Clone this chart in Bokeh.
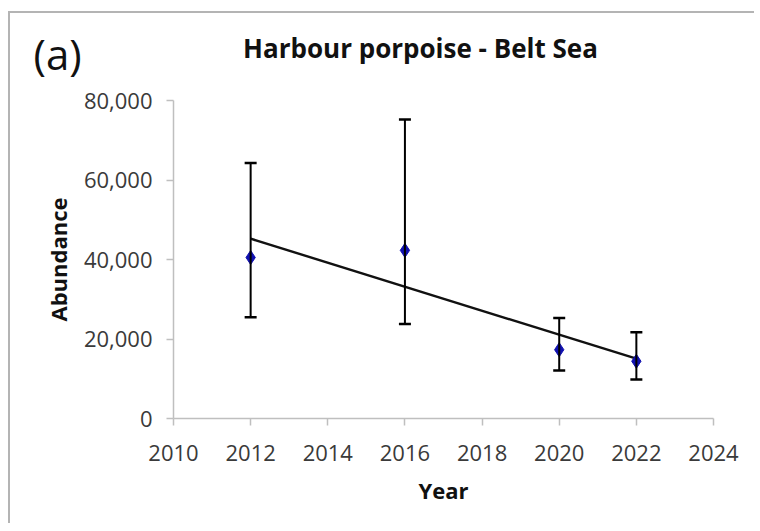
import numpy as np
from bokeh.plotting import figure
from bokeh.layouts import column
from bokeh.models import (ColumnDataSource, Whisker, TeeHead, NumeralTickFormatter,
                          FixedTicker, Range1d)
from bokeh.core.properties import value
from bokeh.embed import file_html
from bokeh.resources import INLINE

# ---- data ----
years = [2012, 2016, 2020, 2022]
abundance = [40500, 42300, 17300, 14400]
lower_ci = [25500, 23800, 12100, 9800]
upper_ci = [64300, 75200, 25300, 21700]

x_ticks = [2010, 2012, 2014, 2016, 2018, 2020, 2022, 2024]
y_ticks = [0, 20000, 40000, 60000, 80000]

title_text = "Harbour porpoise - Belt Sea"
panel_text = "(a)"

# linear trend fitted to the estimates
slope, intercept = np.polyfit(years, abundance, 1)
trend_x = [years[0], years[-1]]
trend_y = [slope * x + intercept for x in trend_x]

FONT = "Open Sans"
TICK_COLOR = "#3a3a3a"
AXIS_COLOR = "#bfbfbf"
W = 744

# ---- heading strip: panel letter and title (pixel coordinates of the strip) ----
HEAD_H = 70
head = figure(frame_width=W, frame_height=HEAD_H, output_backend="svg",
              toolbar_location=None, x_range=Range1d(0, W), y_range=Range1d(HEAD_H, 0),
              x_axis_location=None, y_axis_location=None, min_border=0)
try:
    head.frame_align = False
except Exception:
    pass
head.outline_line_color = None
head.grid.visible = False
head.text(x=[410], y=[34], text=[title_text], text_font=value(FONT),
          text_font_style="bold", text_font_size="26px", text_color="#111111",
          text_align="center", text_baseline="middle")
head.text(x=[23], y=[40], text=[panel_text], text_font=value(FONT),
          text_font_size="42px", text_color="#111111",
          text_align="left", text_baseline="middle")

# ---- main chart ----
p = figure(width=W, height=440, output_backend="svg", toolbar_location=None,
           x_range=Range1d(2010, 2024), y_range=Range1d(0, 80000),
           min_border_left=163, min_border_right=41, min_border_top=17,
           min_border_bottom=105)
try:
    p.frame_align = False
except Exception:
    pass
p.outline_line_color = None
p.grid.visible = False

src = ColumnDataSource(dict(year=years, ab=abundance, lo=lower_ci, hi=upper_ci))

whisk = Whisker(source=src, base="year", upper="hi", lower="lo",
                line_color="black", line_width=2,
                upper_head=TeeHead(size=12, line_width=2.5, line_color="black"),
                lower_head=TeeHead(size=12, line_width=2.5, line_color="black"))
whisk.level = "glyph"
p.add_layout(whisk)

p.line(trend_x, trend_y, line_color="#111111", line_width=2.4)

p.scatter("year", "ab", source=src, marker="diamond", size=14,
          fill_color="#1010b0", line_color="#1010b0")

for ax in (p.xaxis[0], p.yaxis[0]):
    ax.axis_line_color = AXIS_COLOR
    ax.axis_line_width = 1.5
    ax.major_tick_line_color = AXIS_COLOR
    ax.major_tick_line_width = 1.5
    ax.major_tick_out = 7
    ax.major_tick_in = 0
    ax.minor_tick_line_color = None
    ax.major_label_text_font = FONT
    ax.major_label_text_font_size = "22px"
    ax.major_label_text_color = TICK_COLOR
    ax.axis_label_text_font = FONT
    ax.axis_label_text_font_style = "bold"
    ax.axis_label_text_font_size = "22px"
    ax.axis_label_text_color = "#111111"

p.xaxis.ticker = FixedTicker(ticks=x_ticks)
p.yaxis.ticker = FixedTicker(ticks=y_ticks)
p.yaxis.formatter = NumeralTickFormatter(format="0,0")
p.xaxis.axis_label = "Year"
p.yaxis.axis_label = "Abundance"
p.xaxis.major_label_standoff = 19
p.xaxis.axis_label_standoff = 11
p.yaxis.major_label_standoff = 14
p.yaxis.axis_label_standoff = 8

layout = column(head, p, spacing=0)
layout.styles = {"border-top": "2px solid #b4b4b4", "border-left": "2px solid #b4b4b4",
                 "margin-top": "11px", "margin-left": "8px"}

open("out.html", "w").write(file_html(layout, INLINE))
